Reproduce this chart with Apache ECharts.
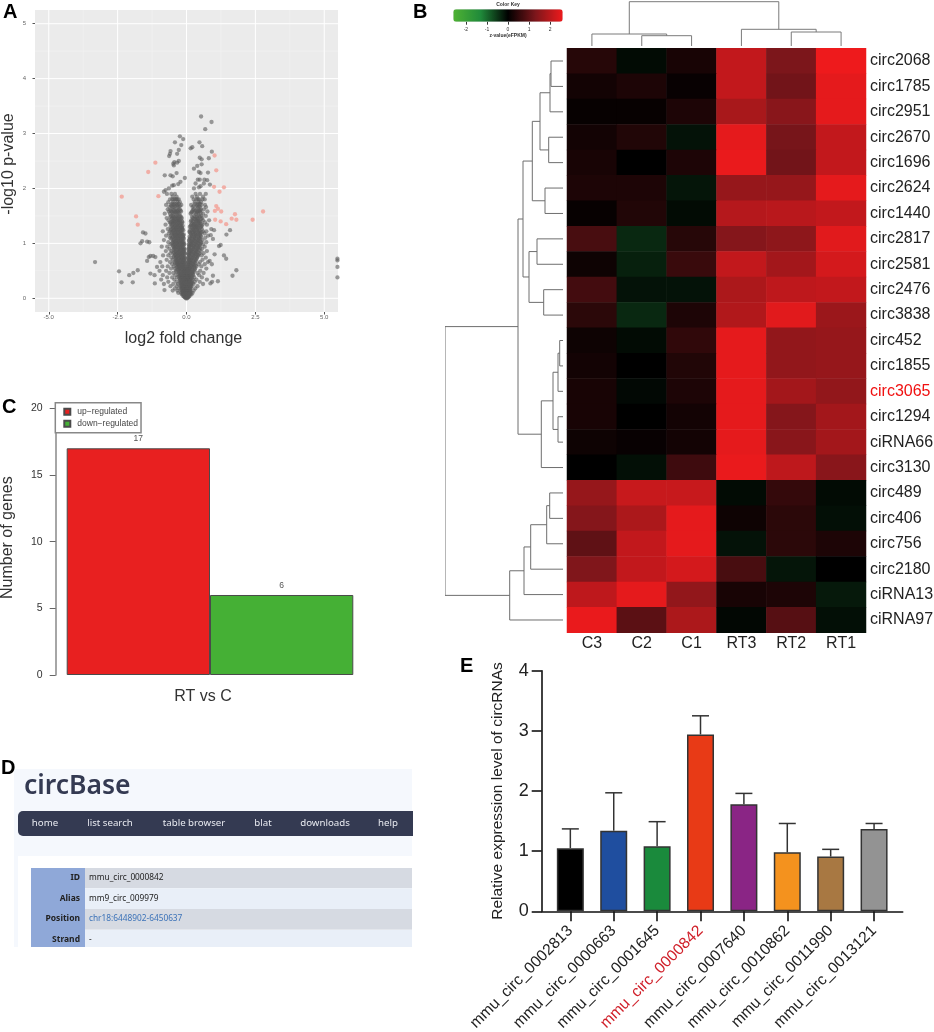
<!DOCTYPE html>
<html lang="en">
<head>
    <meta charset="utf-8"/>
    <script src="https://cdn.jsdelivr.net/npm/echarts@6/dist/echarts.min.js"></script>
</head>
<body style="margin: 0; background: #fff">
<div id="container" style="width: 934px;height:1032px;"></div>
<script type="text/javascript">
    // A: volcano plot
    var pinkPoints = [[1.02,2.6],[1.08,2.33],[-1.13,2.47],[-1.39,2.3],[-2.35,1.85],[-1.02,1.86],[1.0,2.03],[1.36,2.02],[1.2,1.94],
        [-1.83,1.49],[-1.77,1.34],[1.08,1.68],[1.14,1.63],[1.03,1.59],[1.26,1.58],[1.76,1.53],[1.64,1.45],[1.81,1.43],[1.04,1.43],
        [1.24,1.4],[1.44,1.35],[2.4,1.43],[2.78,1.58]];
    var grayOutliers = [[.53,3.31],[.91,3.21],[.68,3.08],[-.24,2.95],[-.12,2.9],[-.42,2.84],[.47,2.84],[.57,2.77],[.21,2.75],[.15,2.73],
        [-.19,2.79],[-.58,2.68],[-.6,2.63],[-.63,2.59],[-.28,2.7],[-.34,2.63],[.92,2.67],[.48,2.56],[.55,2.53],[.81,2.55],[-.44,2.48],
        [-.48,2.45],[-.34,2.47],[-.28,2.5],[-.46,2.42],[.55,2.44],[.39,2.41],[.27,2.36],[.45,2.3],[.51,2.28],[.78,2.29],[-.36,2.28],
        [-.79,2.24],[-.58,2.24],[-.5,2.22],[-.06,2.19],[.41,2.16],[.48,2.16],[.65,2.16],[.75,2.15],[-.22,2.12],[-.3,2.08],[-.46,2.06],
        [-.52,2.05],[.33,2.09],[.63,2.09],[.85,2.07],[.51,2.04],[.45,2.02],[.27,2.0],[-.64,2.0],[-.76,1.97],[-.82,1.94],
        [5.48,.72],[5.48,.69],[5.48,.57],[5.48,.38],[-3.32,.66],[-2.45,.49],[-2.36,.29],[-2.08,.42],[-1.93,.46],[-1.77,.51],[-1.95,.29],
        [-1.58,1.2],[-1.49,1.18],[-1.61,1.04],[-1.67,1.0],[-1.43,1.03],[-1.35,1.02],[-1.31,.77],[-1.21,.77],[-1.13,.75],[-1.37,.75],
        [-1.43,.68],[-1.31,.45],[-1.16,.42],[-1.07,.57],[-1.15,.27],[-.8,.15],[1.58,1.24],[1.45,1.16],[1.24,.97],[1.18,.95],[1.36,.78],
        [1.44,.72],[1.81,.51],[1.67,.41],[1.14,.31],[.93,.3],[.87,.27],[.96,.41],[1.0,1.24],[.96,1.08],[.88,1.15],[1.02,.8],[.92,.62],[.84,.68]];
    // sparser part of the V, one row per p-value level
    var volcanoRows = [
        [1.9,[-.71,-.55,-.42,.33,.49,.7]],
        [1.85,[-.5,-.36,.21,.38,.6]],
        [1.8,[-.6,-.52,-.41,-.28,.26,.47,.58,.66]],
        [1.75,[-.66,-.49,-.33,-.24,.3,.44,.53]],
        [1.7,[-.74,-.57,-.47,-.34,-.19,.17,.39,.54,.67]],
        [1.66,[-.62,-.5,-.44,-.29,.22,.42,.49,.71]],
        [1.62,[-.68,-.52,-.39,-.25,.26,.37,.52,.63]],
        [1.58,[-.64,-.55,-.42,-.35,-.2,.2,.4,.48,.76]],
        [1.54,[-.79,-.6,-.47,-.33,-.26,.15,.35,.43,.6]],
        [1.5,[-.56,-.5,-.37,-.23,.28,.46,.54,.7]],
        [1.46,[-.72,-.52,-.45,-.31,-.17,.23,.41,.57]],
        [1.42,[-.65,-.48,-.34,-.27,.18,.36,.44,.6,.82]],
        [1.38,[-.6,-.55,-.43,-.29,-.15,.31,.47,.67]],
        [1.34,[-.76,-.51,-.37,-.23,.17,.26,.42,.58,.74]],
        [1.3,[-.58,-.46,-.32,-.18,.12,.29,.37,.53]],
        [1.26,[-.68,-.55,-.41,-.27,-.15,.24,.4,.56,.9]],
        [1.22,[-.86,-.6,-.5,-.36,-.22,.11,.28,.44,.6,.72]],
        [1.18,[-.64,-.47,-.33,-.19,.15,.31,.47,.65]],
        [1.14,[-.74,-.58,-.42,-.28,-.12,.19,.35,.51,.78]],
        [1.1,[-.6,-.52,-.38,-.24,-.11,.14,.3,.46,.68]],
        [1.06,[-.82,-.48,-.34,-.2,.09,.26,.42,.58]],
        [1.02,[-.66,-.5,-.43,-.29,-.15,.21,.37,.53,.72]],
        [.98,[-.58,-.45,-.31,-.17,-.09,.08,.17,.33,.49,.6]],
        [.94,[-.9,-.7,-.48,-.34,-.2,.12,.28,.44,.66]],
        [.9,[-.62,-.43,-.29,-.15,-.08,.07,.24,.4,.56]],
        [.86,[-.75,-.54,-.39,-.25,-.11,.11,.19,.35,.51,.74]],
        [.82,[-.58,-.47,-.33,-.19,-.08,.06,.15,.31,.47,.62]],
        [.78,[-.85,-.66,-.43,-.29,-.15,.1,.26,.42,.55]],
        [.74,[-.55,-.39,-.25,-.12,-.07,.06,.22,.38,.7]],
        [.7,[-.72,-.5,-.35,-.21,-.09,.09,.17,.33,.58]],
        [.66,[-.95,-.6,-.44,-.3,-.17,-.06,.05,.13,.29,.49,.78]],
        [.62,[-.52,-.33,-.2,-.08,.08,.24,.44,.66]],
        [.58,[-.88,-.68,-.46,-.29,-.16,-.05,.05,.2,.36,.54]],
        [.54,[-.56,-.42,-.26,-.13,-.07,.07,.15,.31,.72]],
        [.5,[-.98,-.74,-.38,-.23,-.1,-.04,.04,.11,.26,.5]],
        [.46,[-.62,-.48,-.27,-.14,-.08,.06,.21,.4,.62]],
        [.42,[-.86,-.4,-.23,-.11,-.05,.04,.1,.24,.46]],
        [.38,[-.7,-.52,-.34,-.2,-.14,-.08,-.03,.03,.07,.13,.28,.56]],
        [.34,[-.92,-.44,-.23,-.12,-.07,-.02,.02,.06,.11,.23,.36,.74]],
        [.3,[-.66,-.36,-.2,-.15,-.1,-.06,-.02,.02,.05,.09,.14,.3,.48]],
        [.26,[-.82,-.48,-.31,-.18,-.13,-.09,-.05,0,.04,.08,.12,.17,.25,.6]],
        [.22,[-.58,-.35,-.2,-.15,-.11,-.07,-.03,.01,.05,.09,.13,.18,.4]],
        [.18,[-.42,-.28,-.16,-.12,-.08,-.04,0,.03,.07,.1,.14,.32]],
        [.14,[-.5,-.33,-.17,-.13,-.09,-.05,-.02,.02,.05,.08,.12,.26]],
        [.1,[-.3,-.2,-.14,-.1,-.07,-.04,-.01,.02,.05,.08,.11,.15,.22]],
        [.07,[-.17,-.12,-.09,-.06,-.03,0,.03,.06,.09,.13,.18]],
        [.04,[-.12,-.09,-.06,-.03,0,.02,.05,.08,.11]],
        [.02,[-.07,-.04,-.01,.02,.04,.07]],
        [0,[-.03,0,.03]]
    ];
    // dark core of both arms
    var volcanoCore = [
        [1.8,[-.46,-.38,-.33,.36,.42]],
        [1.72,[-.52,-.44,-.37,-.28,.31,.43,.49]],
        [1.68,[-.55,-.41,-.32,-.24,.26,.36,.46]],
        [1.6,[-.58,-.47,-.35,-.29,-.22,.24,.33,.44,.5]],
        [1.56,[-.51,-.44,-.38,-.3,.18,.29,.38,.52]],
        [1.48,[-.59,-.47,-.41,-.34,-.27,-.2,.2,.33,.38,.49]],
        [1.44,[-.54,-.43,-.37,-.29,-.21,.27,.32,.4,.53]],
        [1.4,[-.5,-.45,-.39,-.31,-.24,-.16,.16,.23,.36,.43,.5]],
        [1.36,[-.57,-.48,-.41,-.33,-.26,-.19,.2,.28,.34,.44,.52]],
        [1.32,[-.53,-.42,-.35,-.28,-.21,-.14,.15,.24,.32,.39,.47,.55]],
        [1.28,[-.49,-.43,-.37,-.3,-.23,-.16,.18,.26,.34,.42,.5]],
        [1.24,[-.56,-.46,-.39,-.32,-.25,-.18,-.12,.14,.22,.3,.38,.46]],
        [1.2,[-.52,-.44,-.37,-.3,-.23,-.16,.12,.2,.26,.34,.42,.5,.55]],
        [1.16,[-.53,-.45,-.38,-.31,-.24,-.16,-.1,.17,.25,.33,.41,.49]],
        [1.12,[-.48,-.41,-.34,-.26,-.2,-.14,.11,.22,.28,.37,.44,.53]],
        [1.08,[-.55,-.44,-.37,-.3,-.23,-.16,-.1,.13,.2,.29,.35,.45,.5]],
        [1.04,[-.46,-.39,-.32,-.25,-.18,-.12,.1,.17,.24,.32,.4,.48]],
        [1,[-.53,-.41,-.35,-.27,-.2,-.13,-.09,.12,.19,.27,.35,.43,.51]],
        [.96,[-.5,-.42,-.37,-.28,-.22,-.15,-.11,.1,.15,.23,.3,.38,.46]],
        [.92,[-.45,-.4,-.31,-.24,-.18,-.11,.09,.18,.26,.34,.42,.5]],
        [.88,[-.47,-.36,-.3,-.22,-.17,-.12,-.07,.09,.14,.21,.29,.37,.45]],
        [.84,[-.44,-.37,-.28,-.22,-.14,-.09,.08,.17,.24,.33,.4]],
        [.8,[-.41,-.35,-.27,-.21,-.16,-.11,-.06,.08,.12,.2,.28,.36,.44]],
        [.76,[-.46,-.37,-.31,-.23,-.17,-.1,.08,.15,.24,.32,.4]],
        [.72,[-.4,-.33,-.27,-.19,-.14,-.1,-.05,.07,.12,.2,.28,.36]],
        [.68,[-.38,-.32,-.24,-.19,-.13,-.08,.07,.11,.18,.25,.34]],
        [.64,[-.41,-.34,-.27,-.22,-.15,-.1,-.05,.06,.1,.16,.22,.31]],
        [.6,[-.37,-.3,-.24,-.18,-.12,-.07,.06,.1,.18,.26,.33]],
        [.56,[-.35,-.29,-.22,-.16,-.1,-.04,.04,.09,.14,.21,.28]],
        [.52,[-.32,-.26,-.2,-.13,-.08,-.03,.03,.08,.13,.19,.3]],
        [.48,[-.36,-.25,-.19,-.12,-.07,-.02,.03,.08,.13,.2,.26]],
        [.44,[-.29,-.22,-.17,-.09,-.04,.02,.07,.12,.17,.23]],
        [.4,[-.27,-.21,-.16,-.11,-.06,-.01,.02,.06,.1,.15,.2]],
        [.36,[-.26,-.19,-.14,-.09,-.05,0,.04,.09,.14,.19]],
        [.32,[-.24,-.18,-.13,-.08,-.04,0,.04,.08,.12,.18]],
        [.28,[-.23,-.17,-.12,-.07,-.03,.01,.06,.11,.16,.21]],
        [.24,[-.21,-.16,-.11,-.06,-.02,.03,.07,.1,.15]],
        [.2,[-.18,-.13,-.09,-.05,-.01,.02,.06,.11,.16]],
        [.16,[-.2,-.14,-.1,-.06,-.02,.01,.04,.09,.13]],
        [.12,[-.15,-.11,-.08,-.03,0,.03,.07,.1,.14]],
        [.08,[-.13,-.07,-.05,-.02,.01,.04,.07,.1]]
    ];
    var volcanoXTicks = [-5, -2.5, 0, 2.5, 5];
    var volcanoYTicks = [0, 1, 2, 3, 4, 5];
    var volcanoXMinor = [-3.75, -1.25, 1.25, 3.75];
    var volcanoYMinor = [0.5, 1.5, 2.5, 3.5, 4.5];

    // B: heatmap
    var heatCols = ['C3', 'C2', 'C1', 'RT3', 'RT2', 'RT1'];
    var heatRows = ['circ2068','circ1785','circ2951','circ2670','circ1696','circ2624','circ1440','circ2817','circ2581','circ2476','circ3838',
        'circ452','circ1855','circ3065','circ1294','ciRNA66','circ3130','circ489','circ406','circ756','circ2180','ciRNA13','ciRNA97'];
    var heatValues = [
        [0.4, -0.1, 0.25, 2.1, 1.3, 2.6],
        [0.2, 0.3, 0.08, 2.1, 1.2, 2.5],
        [0.07, 0.07, 0.3, 1.8, 1.45, 2.5],
        [0.2, 0.35, -0.17, 2.5, 1.25, 2.1],
        [0.25, 0, 0.3, 2.55, 1.2, 2.1],
        [0.3, 0.3, -0.2, 1.6, 1.6, 2.5],
        [0.07, 0.35, -0.1, 1.95, 2.0, 2.1],
        [0.75, -0.38, 0.4, 1.4, 1.5, 2.45],
        [0.15, -0.3, 0.6, 2.1, 1.75, 2.3],
        [0.7, -0.17, -0.17, 1.85, 2.05, 2.1],
        [0.45, -0.38, 0.3, 1.9, 2.45, 1.65],
        [0.15, -0.1, 0.5, 2.5, 1.55, 1.6],
        [0.2, 0, 0.35, 2.5, 1.55, 1.6],
        [0.25, -0.08, 0.3, 2.5, 1.75, 1.55],
        [0.25, 0, 0.2, 2.5, 1.4, 1.75],
        [0.15, 0.08, 0.2, 2.5, 1.45, 1.75],
        [0, -0.14, 0.65, 2.55, 2.05, 1.45],
        [1.6, 2.15, 2.15, -0.1, 0.55, -0.1],
        [1.4, 1.85, 2.5, 0.15, 0.45, -0.14],
        [1.0, 2.1, 2.5, -0.17, 0.45, 0.3],
        [1.35, 2.1, 2.3, 0.75, -0.2, 0],
        [2.05, 2.5, 1.55, 0.25, 0.3, -0.24],
        [2.55, 0.95, 1.85, -0.07, 0.9, -0.14]
    ];
    // dendrograms: [merge height, left child, right child], a number is a leaf
    var rowTree = [118,
        [45,
            [40,
                [30.7, [23, [13, [12, 0, 1], 2], [14.3, 3, 4]], [18, 5, 6]],
                [34, [26, 7, 8], [19.3, 9, 10]]],
            [21.7, [10, [5, [3.3, 11, 12], 13], [5, 14, 15]], 16]],
        [53.3, [39, [32.3, [16.3, [13.3, 17, 18], 19], 20], 21], 22]];
    var colTree = [44.3, [12, 0, [10.3, 1, 2]], [16.7, 3, [14, 4, 5]]];
    var keyTicks = [-2, -1, 0, 1, 2];

    // C: up / down bars
    var deNames = ['up\u2212regulated', 'down\u2212regulated'];
    var deValues = [17, 6];

    // D: circBase screenshot texts
    var navItems = [['home', 45], ['list search', 110], ['table browser', 194], ['blat', 263], ['downloads', 325], ['help', 388]];
    var infoRows = [['ID', 'mmu_circ_0000842'], ['Alias', 'mm9_circ_009979'], ['Position', 'chr18:6448902-6450637'], ['Strand', '-']];

    // E: qPCR bars
    var qpcrNames = ['mmu_circ_0002813','mmu_circ_0000663','mmu_circ_0001645','mmu_circ_0000842','mmu_circ_0007640','mmu_circ_0010862','mmu_circ_0011990','mmu_circ_0013121'];
    var qpcrValues = [1.05, 1.34, 1.08, 2.94, 1.78, 0.98, 0.91, 1.37];
    var qpcrErrTop = [1.37, 1.97, 1.49, 3.25, 1.96, 1.46, 1.03, 1.46];
    var qpcrColors = ['#000000', '#1f4e9f', '#1a8a3c', '#e83a16', '#8a2585', '#f4921e', '#a87842', '#939393'];

    var FONT = '"Liberation Sans", Arial, sans-serif';

    var grayPoints = grayOutliers.slice();
    volcanoRows.concat(volcanoCore).forEach(function (r) {
        r[1].forEach(function (x) { grayPoints.push([x, r[0]]); });
    });

    var heatData = [];
    heatValues.forEach(function (row, y) {
        row.forEach(function (v, x) { heatData.push([x, y, v]); });
    });

    // walk a tree, push line pieces as [h1, p1, h2, p2], returns [height, position]
    function treeSegments(node, out) {
        if (typeof node === 'number') return [0, node + 0.5];
        var a = treeSegments(node[1], out);
        var b = treeSegments(node[2], out);
        out.push([node[0], a[1], node[0], b[1]]);
        out.push([a[0], a[1], node[0], a[1]]);
        out.push([b[0], b[1], node[0], b[1]]);
        return [node[0], (a[1] + b[1]) / 2];
    }
    var rowSegs = [];
    treeSegments(rowTree, rowSegs);
    var colSegs = [];
    treeSegments(colTree, colSegs);
    colSegs = colSegs.map(function (s) { return [s[1], s[0], s[3], s[2]]; });

    function segmentItem(color, width) {
        return function (params, api) {
            var p1 = api.coord([api.value(0), api.value(1)]);
            var p2 = api.coord([api.value(2), api.value(3)]);
            return {
                type: 'line',
                shape: {x1: p1[0], y1: p1[1], x2: p2[0], y2: p2[1]},
                style: {stroke: color, lineWidth: width}
            };
        };
    }
    function segmentSeries(xi, yi, data, color, width, z) {
        return {
            type: 'custom', xAxisIndex: xi, yAxisIndex: yi, data: data, z: z, silent: true,
            renderItem: segmentItem(color, width), animation: false, clip: true,
            encode: {x: [0, 2], y: [1, 3]}
        };
    }

    var majorGrid = [], minorGrid = [];
    volcanoXTicks.forEach(function (v) { majorGrid.push([v, -0.25, v, 5.25]); });
    volcanoYTicks.forEach(function (v) { majorGrid.push([-5.5, v, 5.5, v]); });
    volcanoXMinor.forEach(function (v) { minorGrid.push([v, -0.25, v, 5.25]); });
    volcanoYMinor.forEach(function (v) { minorGrid.push([-5.5, v, 5.5, v]); });

    // D panel and the bold letters
    var graphics = [
        {type: 'rect', shape: {x: 14, y: 769, width: 398, height: 178}, style: {fill: '#f5f8fd'}},
        {type: 'rect', shape: {x: 18, y: 856, width: 394, height: 91}, style: {fill: '#ffffff'}},
        {type: 'rect', shape: {x: 18, y: 811, width: 395, height: 25, r: [5, 0, 0, 5]}, style: {fill: '#343a52'}},
        {type: 'text', style: {text: 'circBase', x: 24, y: 786, font: '600 26.5px "Noto Sans", sans-serif', fill: '#343a52', textVerticalAlign: 'middle'}},
        {type: 'rect', shape: {x: 31, y: 868, width: 54, height: 79}, style: {fill: '#8fa8d8'}}
    ];
    var infoTop = [868, 888.3, 909, 929.7, 947];
    infoRows.forEach(function (r, i) {
        graphics.push({type: 'rect', shape: {x: 85, y: infoTop[i], width: 327, height: infoTop[i + 1] - infoTop[i]},
            style: {fill: i % 2 ? '#e9eff8' : '#d6dae2'}});
        graphics.push({type: 'text', style: {text: r[0], x: 80, y: infoTop[i] + 10, font: 'bold 8.5px "Noto Sans", sans-serif', fill: '#222',
            textAlign: 'right', textVerticalAlign: 'middle'}});
        graphics.push({type: 'text', style: {text: r[1], x: 89, y: infoTop[i] + 10, font: '8.3px "Noto Sans", sans-serif', fill: i === 2 ? '#3b72b8' : '#222',
            textVerticalAlign: 'middle'}});
    });
    navItems.forEach(function (n) {
        graphics.push({type: 'text', style: {text: n[0], x: n[1], y: 823, font: '9.7px "Noto Sans", sans-serif', fill: '#e8eaf0',
            textAlign: 'center', textVerticalAlign: 'middle'}});
    });
    [['A', 3, 12], ['B', 413, 12], ['C', 2, 407], ['D', 1, 768], ['E', 460, 666]].forEach(function (l) {
        graphics.push({type: 'text', style: {text: l[0], x: l[1], y: l[2], font: 'bold 20px ' + FONT, fill: '#000', textVerticalAlign: 'middle'}});
    });
    graphics.push({type: 'text', style: {text: 'Color Key', x: 508, y: 5, font: 'bold 5px ' + FONT, fill: '#333', textAlign: 'center', textVerticalAlign: 'middle'}});
    graphics.push({type: 'text', style: {text: 'z-value(eFPKM)', x: 508, y: 36, font: 'bold 5px ' + FONT, fill: '#333', textAlign: 'center', textVerticalAlign: 'middle'}});

    var qpcrBars = qpcrValues.map(function (v, i) {
        return {value: [i, v], itemStyle: {color: qpcrColors[i]}};
    });
    var qpcrErr = qpcrValues.map(function (v, i) { return [i, v, qpcrErrTop[i]]; });

    var option = {
        animation: false,
        textStyle: {fontFamily: FONT},
        graphic: graphics,
        grid: [
            {left: 35, top: 10, width: 303, height: 302, show: true, backgroundColor: '#ebebeb', borderWidth: 0, outerBoundsMode: 'none'},
            {left: 567, top: 48.3, width: 299, height: 584.4, outerBoundsMode: 'none'},
            {left: 445, top: 48.3, width: 118, height: 584.4, outerBoundsMode: 'none'},
            {left: 567, top: 0, width: 299, height: 46, outerBoundsMode: 'none'},
            {left: 453.3, top: 20.7, width: 109.4, height: 1, outerBoundsMode: 'none'},
            {left: 66.7, top: 408.3, width: 286.6, height: 266.7, outerBoundsMode: 'none'},
            {left: 541.7, top: 670.7, width: 361, height: 240.6, outerBoundsMode: 'none'}
        ],
        xAxis: [
            {gridIndex: 0, type: 'value', min: -5.5, max: 5.5, splitLine: {show: false}, axisLine: {show: false, onZero: false},
                axisTick: {length: 2.5, customValues: volcanoXTicks, lineStyle: {color: '#555'}},
                axisLabel: {customValues: volcanoXTicks, fontSize: 6, color: '#666', margin: 2, formatter: function (v) { return v.toFixed(1); }},
                name: 'log2 fold change', nameLocation: 'middle', nameGap: 19, nameTextStyle: {fontSize: 16, color: '#333', padding: [0, 6, 0, 0]}},
            {gridIndex: 1, type: 'category', data: heatCols, axisLine: {show: false}, axisTick: {show: false},
                axisLabel: {fontSize: 16, color: '#222', margin: 3}},
            {gridIndex: 2, type: 'value', min: 0, max: 118, inverse: true, show: false},
            {gridIndex: 3, type: 'value', min: 0, max: 6, show: false},
            {gridIndex: 4, type: 'value', min: -2.6, max: 2.6, splitLine: {show: false}, axisLine: {show: false, onZero: false},
                axisTick: {length: 3, customValues: keyTicks, lineStyle: {color: '#333'}},
                axisLabel: {customValues: keyTicks, fontSize: 5, color: '#333', margin: 5}},
            {gridIndex: 5, type: 'category', data: deNames, show: true, axisLine: {show: false}, axisTick: {show: false}, axisLabel: {show: false},
                name: 'RT vs C', nameLocation: 'middle', nameGap: 14, nameTextStyle: {fontSize: 16, color: '#333', padding: [0, 14, 0, 0]}},
            {gridIndex: 6, type: 'value', min: -0.66, max: 7.66, splitLine: {show: false},
                axisLine: {onZero: false, lineStyle: {color: '#111', width: 1.6}},
                axisTick: {length: 10, customValues: [0, 1, 2, 3, 4, 5, 6, 7], lineStyle: {color: '#111', width: 1.6}},
                axisLabel: {customValues: [0, 1, 2, 3, 4, 5, 6, 7], rotate: 45, fontSize: 15.7, margin: 17,
                    color: function (v) { return Number(v) === 3 ? '#d0202a' : '#222'; },
                    formatter: function (v) { return qpcrNames[v]; }}}
        ],
        yAxis: [
            {gridIndex: 0, type: 'value', min: -0.25, max: 5.25, splitLine: {show: false}, axisLine: {show: false, onZero: false},
                axisTick: {length: 2.5, customValues: volcanoYTicks, lineStyle: {color: '#555'}},
                axisLabel: {customValues: volcanoYTicks, fontSize: 6, color: '#666', margin: 9},
                name: '-log10 p-value', nameLocation: 'middle', nameGap: 18, nameTextStyle: {fontSize: 16, color: '#333', padding: [0, 6, 0, 0]}},
            {gridIndex: 1, type: 'category', position: 'right', inverse: true, axisLine: {show: false}, axisTick: {show: false},
                data: heatRows.map(function (n) {
                    return n === 'circ3065' ? {value: n, textStyle: {color: '#f01010'}} : n;
                }),
                axisLabel: {fontSize: 16, color: '#222', margin: 4, interval: 0}},
            {gridIndex: 2, type: 'value', min: 0, max: 23, inverse: true, show: false},
            {gridIndex: 3, type: 'value', min: 0, max: 46, show: false},
            {gridIndex: 4, type: 'value', show: false},
            {gridIndex: 5, type: 'value', min: 0, max: 20, interval: 5, offset: 11, splitLine: {show: false},
                axisLine: {show: true, onZero: false, lineStyle: {color: '#888', width: 1.5}},
                axisTick: {show: true, length: 6, lineStyle: {color: '#666'}},
                axisLabel: {fontSize: 10.5, color: '#333', margin: 13},
                name: 'Number of genes', nameLocation: 'middle', nameGap: 40, nameTextStyle: {fontSize: 16, color: '#333', padding: [0, 0, 0, 8]}},
            {gridIndex: 6, type: 'value', min: 0, max: 4, interval: 1, splitLine: {show: false},
                axisLine: {show: true, onZero: false, lineStyle: {color: '#111', width: 1.6}},
                axisTick: {show: true, length: 10, lineStyle: {color: '#111', width: 1.6}},
                axisLabel: {fontSize: 18, color: '#222', margin: 13},
                name: 'Relative expression level of circRNAs', nameLocation: 'middle', nameGap: 36, nameTextStyle: {fontSize: 15.5, color: '#222'}}
        ],
        visualMap: {
            type: 'continuous', seriesIndex: 4, min: -2.6, max: 2.6, orient: 'horizontal', left: 453.3, top: 9.3,
            itemWidth: 12.4, itemHeight: 109.4, padding: 0, calculable: false, showLabel: false, text: null,
            inRange: {color: ['#4fb233', '#1f8a3a', '#000000', '#7c161b', '#ee1a1c']}
        },
        legend: {
            left: 55.3, top: 402.7, orient: 'vertical', selectedMode: false, icon: 'rect', itemWidth: 6, itemHeight: 6, itemGap: 3,
            padding: [4.5, 3, 4.5, 8], backgroundColor: '#fff', borderColor: '#888', borderWidth: 1.5, z: 10,
            data: deNames, textStyle: {fontSize: 8.5, color: '#444', padding: [0, 0, 0, 2]}
        },
        series: [
            segmentSeries(0, 0, minorGrid, '#f3f3f3', 0.6, 1),
            segmentSeries(0, 0, majorGrid, '#ffffff', 1, 1),
            {type: 'scatter', xAxisIndex: 0, yAxisIndex: 0, data: grayPoints, symbolSize: 4.3, z: 3, silent: true,
                itemStyle: {color: '#5c5c5c', opacity: 0.6}, clip: true},
            {type: 'scatter', xAxisIndex: 0, yAxisIndex: 0, data: pinkPoints, symbolSize: 4.3, z: 4, silent: true,
                itemStyle: {color: '#f2a79f', opacity: 0.9}},
            {type: 'heatmap', xAxisIndex: 1, yAxisIndex: 1, data: heatData, silent: true},
            segmentSeries(2, 2, rowSegs, '#6e6e6e', 1, 2),
            segmentSeries(3, 3, colSegs, '#7a7a7a', 1, 2),
            {type: 'bar', name: deNames[0], xAxisIndex: 5, yAxisIndex: 5, stack: 'de', barWidth: '100%', data: [deValues[0], null],
                itemStyle: {color: '#e82020', borderColor: '#4a4a4a', borderWidth: 1},
                label: {show: true, position: 'top', fontSize: 8.5, color: '#555', distance: 5}},
            {type: 'bar', name: deNames[1], xAxisIndex: 5, yAxisIndex: 5, stack: 'de', barWidth: '100%', data: [null, deValues[1]],
                itemStyle: {color: '#45b035', borderColor: '#4a4a4a', borderWidth: 1},
                label: {show: true, position: 'top', fontSize: 8.5, color: '#555', distance: 5}},
            {type: 'bar', xAxisIndex: 6, yAxisIndex: 6, data: qpcrBars, barWidth: 27,
                itemStyle: {borderColor: '#333', borderWidth: 1.5}, z: 3},
            {type: 'custom', xAxisIndex: 6, yAxisIndex: 6, data: qpcrErr, z: 2, silent: true,
                encode: {x: 0, y: [1, 2]},
                renderItem: function (params, api) {
                    var base = api.coord([api.value(0), api.value(1)]);
                    var top = api.coord([api.value(0), api.value(2)]);
                    var s = {stroke: '#333', lineWidth: 1.5};
                    return {type: 'group', children: [
                        {type: 'line', shape: {x1: base[0], y1: base[1], x2: top[0], y2: top[1]}, style: s},
                        {type: 'line', shape: {x1: top[0] - 8.5, y1: top[1], x2: top[0] + 8.5, y2: top[1]}, style: s}
                    ]};
                }}
        ]
    };

    var myChart = echarts.init(document.getElementById('container'));
    myChart.setOption(option);
</script>
</body>
</html>
